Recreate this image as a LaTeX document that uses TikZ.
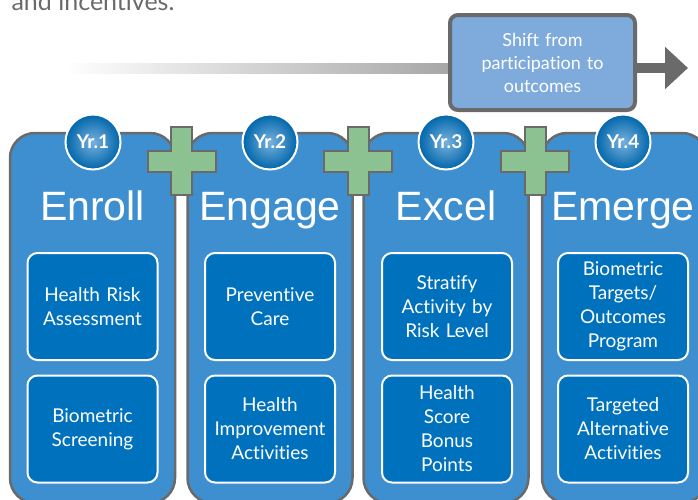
\documentclass[tikz,border=0pt]{standalone}
\usepackage{fontspec}
\setmainfont{Lato}[Ligatures=NoCommon]
\newfontfamily\headfont{Liberation Sans}
\usetikzlibrary{arrows.meta}
\definecolor{colblue}{HTML}{3E8FD0}
\definecolor{boxblue}{HTML}{0071BD}
\definecolor{shiftblue}{HTML}{7EABDB}
\definecolor{rimgrey}{HTML}{6A6A6A}
\definecolor{plusgreen}{HTML}{8CC191}
\begin{document}
\begin{tikzpicture}[x=1pt, y=-1pt,
	column/.style={shape=rectangle, rounded corners=25pt, draw=rimgrey, line width=2.5pt, fill=colblue, minimum width=165pt, minimum height=370pt},
	head/.style={anchor=base, text=white, font=\headfont\fontsize{41}{41}\selectfont},
	year/.style={shape=circle, draw=white, line width=2pt, inner color=colblue!70!white, outer color=boxblue!90!black, minimum size=55pt, inner sep=0pt, text=white, font=\bfseries\fontsize{19}{19}\selectfont},
	item/.style={shape=rectangle, rounded corners=10pt, draw=white, line width=2pt, fill=boxblue, minimum width=130pt, minimum height=107pt, inner sep=3pt, text width=124pt, align=center, text=white, font=\fontsize{19}{24}\selectfont},
	shiftrect/.style={shape=rectangle, rounded corners=8pt, draw=rimgrey, line width=4pt, fill=shiftblue, minimum width=185pt, minimum height=95pt, text width=170pt, align=center, text=white, font=\fontsize{18}{23}\selectfont},
	plus/.style={draw=rimgrey, line width=2pt, fill=plusgreen}]
		\useasboundingbox (0,0) rectangle (698,499);
		\clip (0,0) rectangle (698,499);
		\node[anchor=base west, text=rimgrey, font=\fontsize{25}{30}\selectfont] (intro) at (8,10) {and incentives.};
		% timeline
		\shade[left color=white, right color=black!35] (65,63) rectangle (455,73);
		\node at (542.5,62.5) [shiftrect] (shiftbox) {Shift from\\participation to\\outcomes};
		\coordinate (tip) at (688,68);
		\draw[line width=10pt, rimgrey, -{Triangle[length=23pt, width=41pt]}] (shiftbox.east |- tip) -- (tip);
		% years
		\node at (92.5,318) [column] (enroll) {};
		\node at (270,318) [column] (engage) {};
		\node at (446,318) [column] (excel) {};
		\node at (624.5,318) [column] (emerge) {};
		\foreach \px in {181.5,358,535}
			\draw[plus] (\px-10.5,127) -- ++(21,0) -- ++(0,23.5) -- ++(23.5,0) -- ++(0,21) -- ++(-23.5,0) -- ++(0,23.5) -- ++(-21,0) -- ++(0,-23.5) -- ++(-23.5,0) -- ++(0,-21) -- ++(23.5,0) -- cycle;
		\node at (93,142) [year] (yrone) {Yr.1};
		\node at (270,142) [year] (yrtwo) {Yr.2};
		\node at (446,142) [year] (yrthree) {Yr.3};
		\node at (623,142) [year] (yrfour) {Yr.4};
		\node at (92.5,220) [head] (enrollhead) {Enroll};
		\node at (270,220) [head] (engagehead) {Engage};
		\node at (446,220) [head] (excelhead) {Excel};
		\node at (623,220) [head] (emergehead) {Emerge};
		% activities
		\node at (92.5,306.5) [item] (hra) {Health Risk\\Assessment};
		\node at (92.5,429) [item] (bio) {Biometric\\Screening};
		\node at (270,306.5) [item] (prev) {Preventive\\Care};
		\node at (270,429) [item] (himp) {Health\\Improvement\\Activities};
		\node at (447,306.5) [item] (strat) {Stratify\\Activity by\\Risk Level};
		\node at (447,429) [item] (score) {Health\\Score\\Bonus\\Points};
		\node at (623,306.5) [item] (targ) {Biometric\\Targets/\\Outcomes\\Program};
		\node at (623,429) [item] (alt) {Targeted\\Alternative\\Activities};
\end{tikzpicture}
\end{document}
